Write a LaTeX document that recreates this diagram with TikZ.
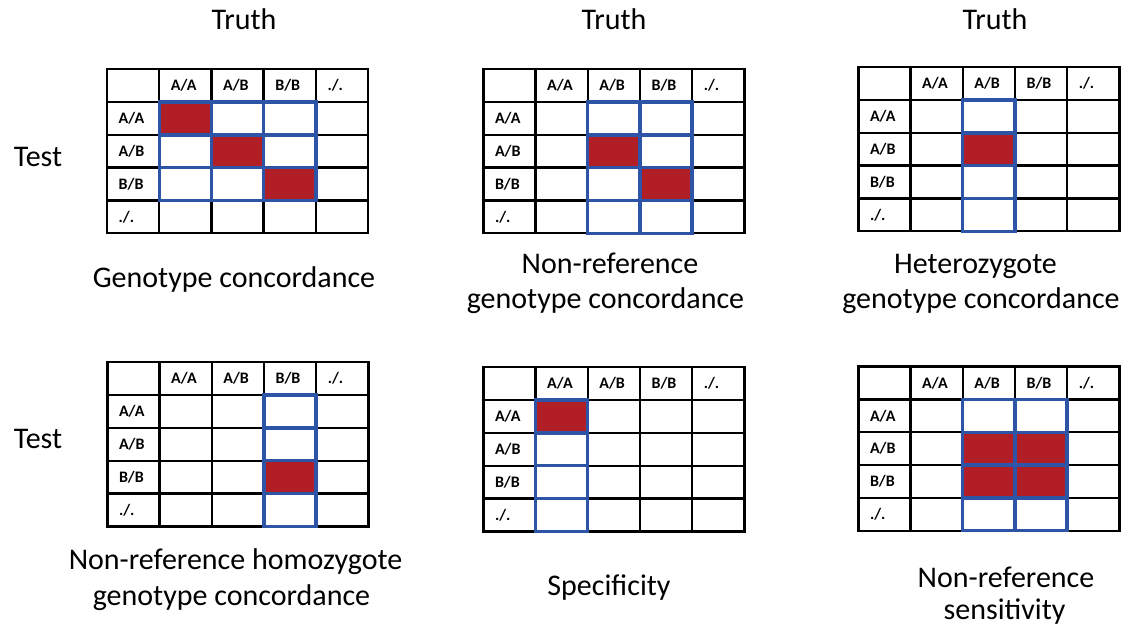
\documentclass[tikz,border=0pt]{standalone}
\usepackage{fontspec}
\setmainfont{Carlito}
\definecolor{cellred}{RGB}{178,30,38}
\definecolor{cellblue}{RGB}{46,84,166}
\newcommand\cw{52.2}
\newcommand\rh{32.8}
\tikzset{
  gridline/.style={line width=2.4pt,black,line cap=rect},
  blueline/.style={line width=3.4pt,cellblue},
  redcell/.style={fill=cellred},
  lab/.style={font=\bfseries\fontsize{16}{16}\selectfont,anchor=west,inner sep=0pt},
  captext/.style={font=\fontsize{30}{32}\selectfont,anchor=base,inner sep=0pt},
}
\newcommand\gentable[5]{%
\begin{scope}[shift={(#2,#3)}]
  \foreach \c/\r in {#5} \fill[redcell] (\c*\cw,\r*\rh) rectangle ++(\cw,\rh);
  \foreach \i in {0,...,5} {
    \draw[gridline] (\i*\cw,0) -- (\i*\cw,5*\rh);
    \draw[gridline] (0,\i*\rh) -- (5*\cw,\i*\rh);
  }
  \foreach \c/\r in {#4} \draw[blueline] (\c*\cw,\r*\rh) rectangle ++(\cw,\rh);
  \foreach \k/\t in {1/{A/A},2/{A/B},3/{B/B},4/{./.}} {
    \node[lab] (#1h\k) at (\k*\cw+11.5,0.5*\rh) {\t};
    \node[lab] (#1r\k) at (11.5,\k*\rh+0.5*\rh) {\t};
  }
\end{scope}}
\begin{document}
\begin{tikzpicture}[x=1pt,y=-1pt]
\fill[white] (0,0) rectangle (1128,628);
\useasboundingbox (0,0) rectangle (1128,628);
% titles
\node[captext] (truth1) at (244,30) {Truth};
\node[captext] (truth2) at (614,30) {Truth};
\node[captext] (truth3) at (995,30) {Truth};
\node[captext] (test1) at (38,167) {Test};
\node[captext] (test2) at (38,449) {Test};
% tables
\gentable{a}{107}{69.3}{1/1,2/1,3/1,1/2,2/2,3/2,1/3,2/3,3/3}{1/1,2/2,3/3}
\gentable{b}{483.3}{69.3}{2/1,3/1,2/2,3/2,2/3,3/3,2/4,3/4}{2/2,3/3}
\gentable{c}{858.3}{67.3}{2/1,2/2,2/3,2/4}{2/2}
\gentable{d}{107.3}{362.3}{3/1,3/2,3/3,3/4}{3/3}
\gentable{e}{483.3}{367.3}{1/1,1/2,1/3,1/4}{1/1}
\gentable{f}{858.3}{366.7}{2/1,3/1,2/2,3/2,2/3,3/3,2/4,3/4}{2/2,3/2,2/3,3/3}
% captions
\node[captext] (cap1) at (234,288) {Genotype concordance};
\node[captext] (cap2a) at (610,274) {Non-reference};
\node[captext] (cap2b) at (605.5,309) {genotype concordance};
\node[captext] (cap3a) at (975.5,274) {Heterozygote};
\node[captext] (cap3b) at (981,309) {genotype concordance};
\node[captext] (cap4a) at (235.5,569) {Non-reference homozygote};
\node[captext] (cap4b) at (231.5,605) {genotype concordance};
\node[captext] (cap5) at (609,595) {Specificity};
\node[captext] (cap6a) at (1006,587) {Non-reference};
\node[captext] (cap6b) at (1004.5,619.5) {sensitivity};
\end{tikzpicture}
\end{document}
